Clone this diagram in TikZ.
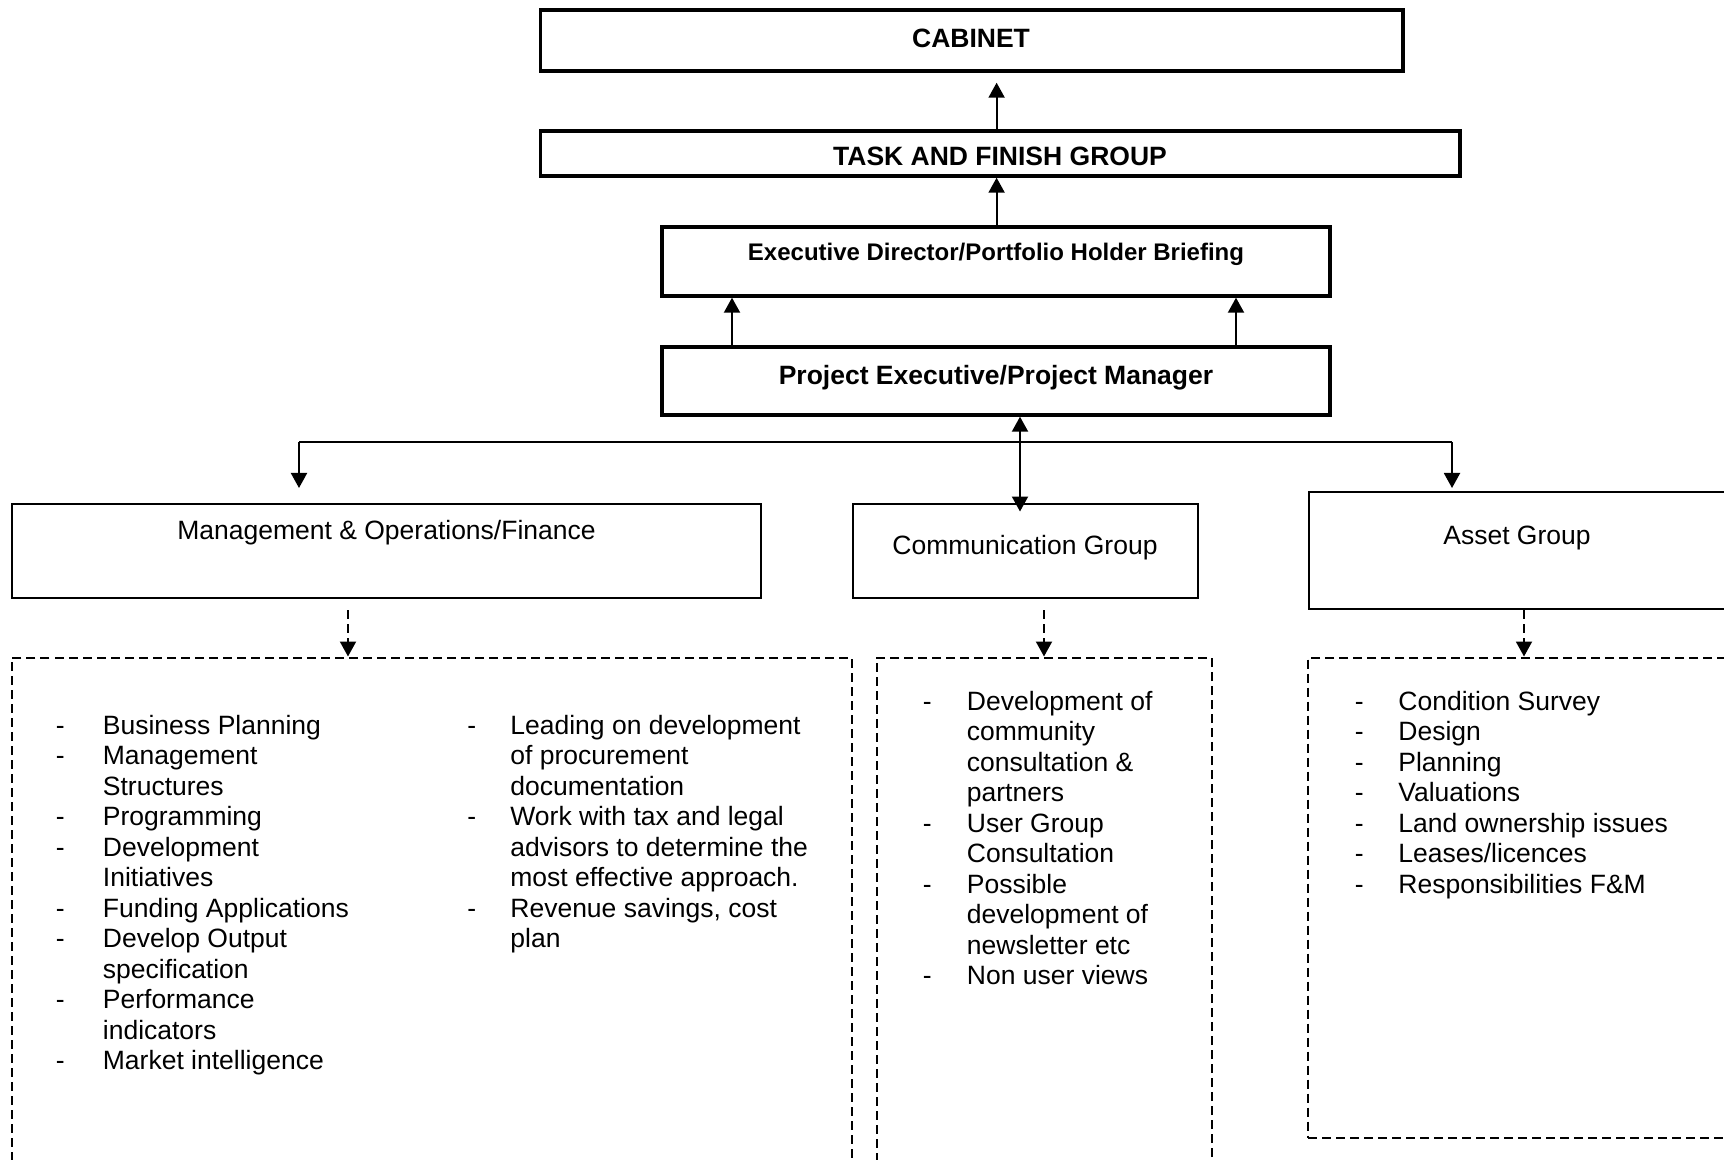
\documentclass[tikz,border=0pt]{standalone}
\usepackage{fontspec}
\setmainfont{Liberation Sans}
\usetikzlibrary{fit,arrows.meta}
\begin{document}
\begin{tikzpicture}[x=0.5pt,y=-0.5pt,
  thickbox/.style={draw, line width=1.7pt, inner sep=0pt},
  thinbox/.style={draw, line width=1pt, inner sep=0pt},
  dashbox/.style={draw, line width=1pt, dash pattern=on 4.5pt off 2.5pt, inner sep=0pt},
  ttl/.style={font=\fontsize{13.25}{15}\selectfont\bfseries, inner sep=0pt, anchor=base},
  lbl/.style={font=\fontsize{13.25}{15}\selectfont, inner sep=0pt, anchor=base},
  itm/.style={font=\fontsize{13.25}{15}\selectfont, inner sep=0pt, anchor=base west},
  conn/.style={line width=1pt, -{Triangle[length=7.5pt,width=8pt]}},
  dconn/.style={conn, dash pattern=on 4.5pt off 2.5pt},
  link/.style={line width=1pt},
]
\useasboundingbox (0,0) rectangle (1724,1160);
\clip (0,0) rectangle (1724,1160);

% top chain
\node[thickbox, fit={(540.5,10) (1403,71)}] (cab) {};
\node[ttl] (cabT) at (971,47.5) {CABINET};
\node[thickbox, fit={(540.5,131) (1460,176)}] (tfg) {};
\node[ttl] (tfgT) at (1000,165.5) {TASK AND FINISH GROUP};
\node[thickbox, fit={(662,227) (1330,296)}] (exec) {};
\node[ttl, font=\fontsize{12}{14}\selectfont\bfseries] (execT) at (996,261) {Executive Director/Portfolio Holder Briefing};
\node[thickbox, fit={(662,347) (1330,415)}] (proj) {};
\node[ttl] (projT) at (996,384.5) {Project Executive/Project Manager};

% groups
\node[thinbox, fit={(12,503.5) (761,598)}] (mgmt) {};
\node[lbl] (mgmtT) at (386.5,539.5) {Management \& Operations/Finance};
\node[thinbox, fit={(853,503.5) (1197.5,598)}] (comm) {};
\node[lbl] (commT) at (1025,554.5) {Communication Group};
\node[thinbox, fit={(1309,492) (1760,609)}] (asset) {};
\node[lbl] (assetT) at (1517,544.5) {Asset Group};

% dashed task boxes
\node[dashbox, fit={(12,657.5) (851.5,1200)}] (mlist) {};
\node[dashbox, fit={(876.5,657.5) (1211.5,1200)}] (clist) {};
\node[dashbox, fit={(1308,657.5) (1760,1137.5)}] (alist) {};

% connectors
\coordinate (xa) at (996.6,0);
\coordinate (xl) at (732,0);
\coordinate (xr) at (1236,0);
\coordinate (xc) at (1020,0);
\coordinate (jL) at (299,442);
\coordinate (jR) at (1452,442);
\coordinate (dm) at (348,0);
\coordinate (dc) at (1044,0);
\coordinate (da) at (1524,0);

\draw[conn, shorten >=5pt] (xa |- tfg.north) -- (xa |- cab.south);
\draw[conn] (xa |- exec.north) -- (xa |- tfg.south);
\draw[conn] (xl |- proj.north) -- (xl |- exec.south);
\draw[conn] (xr |- proj.north) -- (xr |- exec.south);
\draw[line width=1pt, {Triangle[length=7.5pt,width=8pt]}-{Triangle[length=7.5pt,width=8pt]}, shorten >=-4.5pt] (xc |- proj.south) -- (xc |- comm.north);
\draw[link] (jL) -- (jR);
\draw[conn, shorten >=7.25pt] (jL) -- (jL |- mgmt.north);
\draw[conn, shorten >=1.5pt] (jR) -- (jR |- asset.north);
\draw[dconn, shorten <=5.5pt] (dm |- mgmt.south) -- (dm |- mlist.north);
\draw[dconn, shorten <=5.5pt] (dc |- comm.south) -- (dc |- clist.north);
\draw[dconn] (da |- asset.south) -- (da |- alist.north);

% lists
\foreach \xd/\xt [count=\i from 0] in {1/Business Planning, 1/Management, 0/Structures, 1/Programming, 1/Development, 0/Initiatives, 1/Funding Applications, 1/Develop Output, 0/specification, 1/Performance, 0/indicators, 1/Market intelligence}{
  \node[itm] (ma\i) at (102.5,{734+30.5*\i}) {\xt};
  \ifnum\xd=1 \node[itm] (mad\i) at (55.5,{734+30.5*\i}) {-};\fi
}
\foreach \xd/\xt [count=\i from 0] in {1/Leading on development, 0/of procurement, 0/documentation, 1/Work with tax and legal, 0/advisors to determine the, 0/most effective approach., 1/{Revenue savings, cost}, 0/plan}{
  \node[itm] (mb\i) at (510,{734+30.5*\i}) {\xt};
  \ifnum\xd=1 \node[itm] (mbd\i) at (467,{734+30.5*\i}) {-};\fi
}
\foreach \xd/\xt [count=\i from 0] in {1/Development of, 0/community, 0/consultation \&, 0/partners, 1/User Group, 0/Consultation, 1/Possible, 0/development of, 0/newsletter etc, 1/Non user views}{
  \node[itm] (c\i) at (966.5,{710+30.5*\i}) {\xt};
  \ifnum\xd=1 \node[itm] (cd\i) at (922.5,{710+30.5*\i}) {-};\fi
}
\foreach \xt [count=\i from 0] in {Condition Survey, Design, Planning, Valuations, Land ownership issues, Leases/licences, Responsibilities F\&M}{
  \node[itm] (a\i) at (1398,{710+30.5*\i}) {\xt};
  \node[itm] (ad\i) at (1354.5,{710+30.5*\i}) {-};
}
\end{tikzpicture}
\end{document}
